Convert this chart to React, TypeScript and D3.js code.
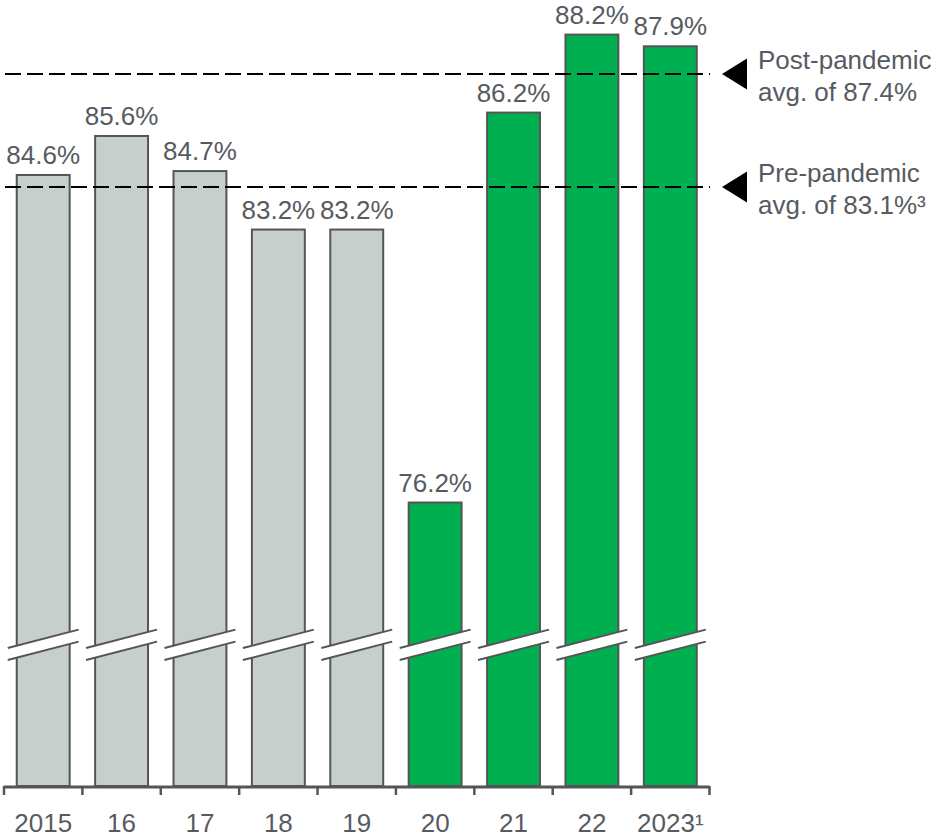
import React from "react";
import * as d3 from "d3";

const categories = ["2015", "16", "17", "18", "19", "20", "21", "22", "2023¹"];
const values = [84.6, 85.6, 84.7, 83.2, 83.2, 76.2, 86.2, 88.2, 87.9];
const valueLabels = ["84.6%", "85.6%", "84.7%", "83.2%", "83.2%", "76.2%", "86.2%", "88.2%", "87.9%"];
const isPostPandemic = [false, false, false, false, false, true, true, true, true];
// reference lines (drawn position) and their annotation text
const refLineValues = [87.19, 84.29];
const refLineLabels = [
  ["Post-pandemic", "avg. of 87.4%"],
  ["Pre-pandemic", "avg. of 83.1%³"],
];
const axisMinValue = 68.93;
const breakValue = 72.55;

const W = 940;
const H = 837;
const FONT = "'Liberation Sans', Arial, sans-serif";
const TEXT = "#575b61";
const STROKE = "#555555";
const GRAY = "#c6cfcc";
const GREEN = "#00b050";

export default function App() {
  const baseY = 786;
  const x = d3.scaleBand<string>().domain(categories).range([4, 709.5]).padding(0);
  const y = d3.scaleLinear().domain([axisMinValue, 88.2]).range([baseY, 34.6]);
  const step = x.step();
  const bw = step * 0.675;
  const breakY = y(breakValue);
  const breakHalfW = bw / 2 + 9;
  const slope = 0.26;
  const gap = 12;
  const lineEnd = 710;

  return (
    <div style={{ position: "absolute", left: 0, top: 0 }}>
      <svg width={W} height={H} style={{ display: "block", fontFamily: FONT }}>
        <rect x={0} y={0} width={W} height={H} fill="#fff" />
        {categories.map((c, i) => {
          const cx = (x(c) as number) + step / 2;
          const top = y(values[i]);
          return (
            <g key={c}>
              <rect
                x={cx - bw / 2}
                y={top}
                width={bw}
                height={baseY - top}
                fill={isPostPandemic[i] ? GREEN : GRAY}
                stroke={STROKE}
                strokeWidth={2}
              />
              <text x={cx} y={top - 11} textAnchor="middle" fontSize={26} fill={TEXT}>
                {valueLabels[i]}
              </text>
              {/* axis break */}
              <polygon
                points={[
                  [cx - breakHalfW, breakY - gap / 2 + breakHalfW * slope],
                  [cx + breakHalfW, breakY - gap / 2 - breakHalfW * slope],
                  [cx + breakHalfW, breakY + gap / 2 - breakHalfW * slope],
                  [cx - breakHalfW, breakY + gap / 2 + breakHalfW * slope],
                ]
                  .map((p) => p.join(","))
                  .join(" ")}
                fill="#fff"
              />
              <line
                x1={cx - breakHalfW}
                y1={breakY - gap / 2 + breakHalfW * slope}
                x2={cx + breakHalfW}
                y2={breakY - gap / 2 - breakHalfW * slope}
                stroke={STROKE}
                strokeWidth={2}
              />
              <line
                x1={cx - breakHalfW}
                y1={breakY + gap / 2 + breakHalfW * slope}
                x2={cx + breakHalfW}
                y2={breakY + gap / 2 - breakHalfW * slope}
                stroke={STROKE}
                strokeWidth={2}
              />
              <text x={cx} y={832} textAnchor="middle" fontSize={26} fill={TEXT}>
                {c}
              </text>
            </g>
          );
        })}
        {/* x axis */}
        <line x1={4} x2={709.5} y1={baseY + 1} y2={baseY + 1} stroke={STROKE} strokeWidth={3} />
        {categories.map((c) => (
          <line
            key={"t" + c}
            x1={x(c) as number}
            x2={x(c) as number}
            y1={baseY}
            y2={baseY + 9}
            stroke={STROKE}
            strokeWidth={2.5}
          />
        ))}
        <line
          x1={709.5}
          x2={709.5}
          y1={baseY}
          y2={baseY + 9}
          stroke={STROKE}
          strokeWidth={2.5}
        />
        {/* reference lines */}
        {refLineValues.map((v, i) => {
          const ly = y(v);
          return (
            <g key={"r" + i}>
              <line x1={5} x2={lineEnd} y1={ly} y2={ly} stroke="#000" strokeWidth={2} strokeDasharray="16,6" />
              <polygon
                points={`722,${ly} 747,${ly - 15.5} 747,${ly + 15.5}`}
                fill="#000"
              />
              <text x={758} y={ly - 5} fontSize={26} fill={TEXT}>
                {refLineLabels[i][0]}
              </text>
              <text x={758} y={ly + 27} fontSize={26} fill={TEXT}>
                {refLineLabels[i][1]}
              </text>
            </g>
          );
        })}
      </svg>
    </div>
  );
}
